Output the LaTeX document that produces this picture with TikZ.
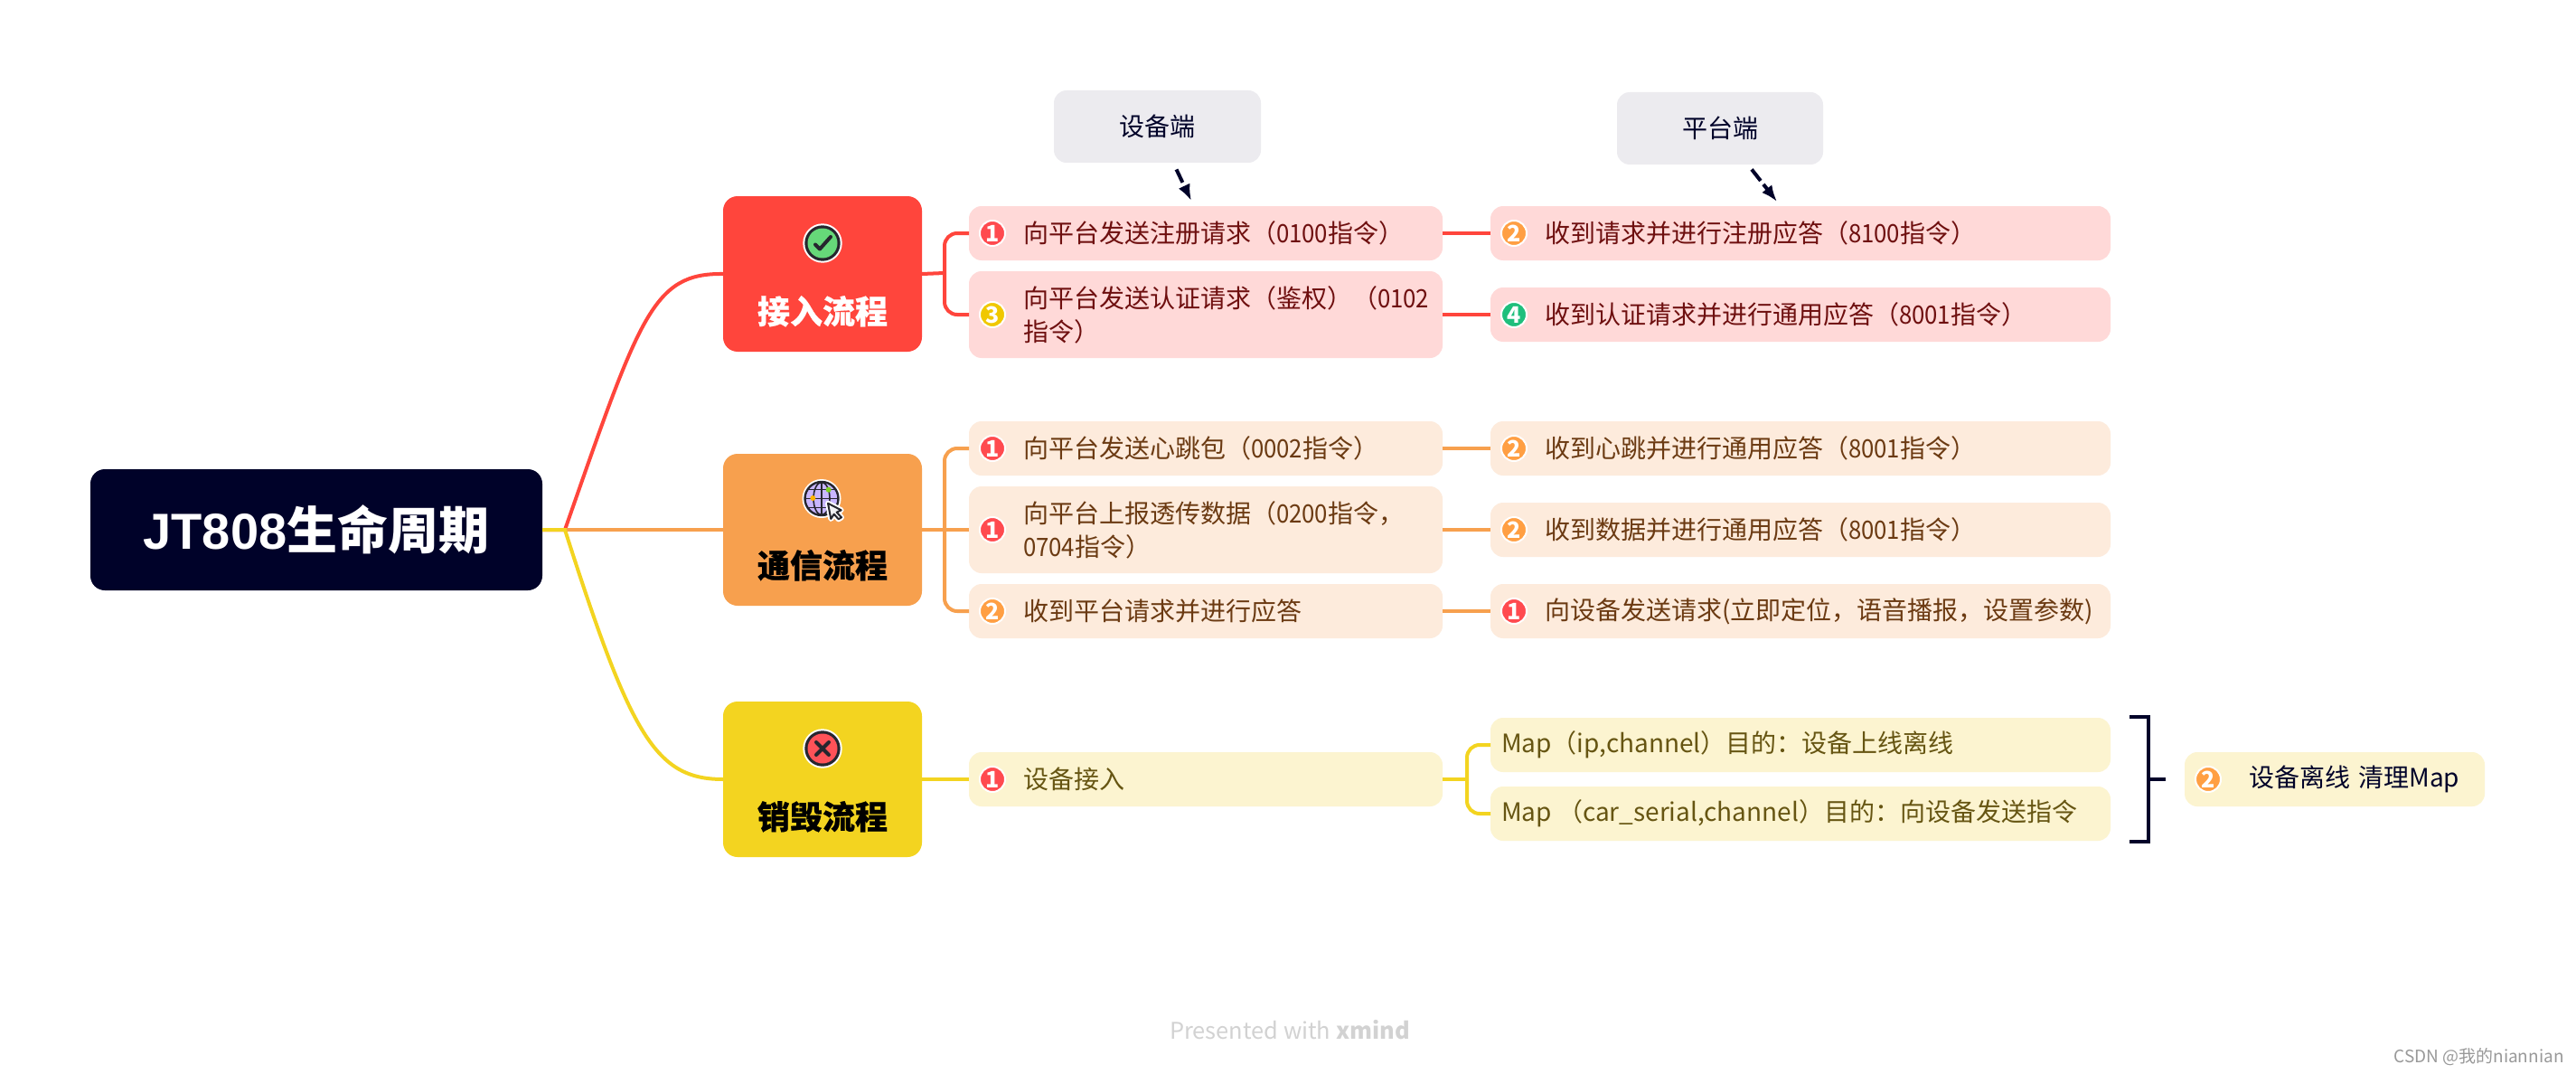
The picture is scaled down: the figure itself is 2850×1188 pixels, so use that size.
\documentclass[tikz,border=0pt]{standalone}
\usepackage{fontspec}
\setmainfont{Noto Sans CJK SC}
\newfontfamily\dg[FakeStretch=0.92]{Noto Sans CJK SC}
\newfontfamily\heavyf[BoldFeatures={FakeBold=0.5}]{Noto Sans CJK SC}
\newfontfamily\latinbold{Liberation Sans}
\usetikzlibrary{arrows.meta,calc}
\definecolor{navy}{HTML}{000229}
\definecolor{cred}{HTML}{FF453C}
\definecolor{corange}{HTML}{F7A04E}
\definecolor{cyellow}{HTML}{F3D420}
\definecolor{lred}{HTML}{FFD9D8}
\definecolor{lorange}{HTML}{FDEBDC}
\definecolor{lyellow}{HTML}{FCF4D0}
\definecolor{tred}{HTML}{6E0F0F}
\definecolor{torange}{HTML}{6B3A12}
\definecolor{tyellow}{HTML}{665512}
\definecolor{mred}{HTML}{FF4A4F}
\definecolor{morange}{HTML}{FF9F43}
\definecolor{myellow}{HTML}{F0C800}
\definecolor{mgreen}{HTML}{1FBF7C}
\definecolor{icondark}{HTML}{26262E}
\definecolor{notegray}{HTML}{ECEBEF}
\definecolor{icgreen}{HTML}{66D879}
\definecolor{icpurple}{HTML}{C8B6FF}
\definecolor{icamber}{HTML}{FFB400}
\definecolor{iclime}{HTML}{7ED321}
\definecolor{iccursor}{HTML}{F2F2F4}
\definecolor{icred}{HTML}{FF5258}
\definecolor{footgray}{HTML}{D2D2D2}
\definecolor{markgray}{HTML}{999999}
\tikzset{
  leafbox/.style={rectangle,rounded corners=7pt,inner sep=0pt,outer sep=0pt,font=\fontsize{14}{18.5}\selectfont},
  redleaf/.style={leafbox,fill=lred,text=tred},
  orangeleaf/.style={leafbox,fill=lorange,text=torange},
  yellowleaf/.style={leafbox,fill=lyellow,text=tyellow},
  navyleaf/.style={leafbox,fill=lyellow,text=navy},
  marker/.style={circle,minimum size=14pt,inner sep=0pt,draw=white,line width=1pt,text=white,font=\fontsize{12.5}{12.5}\selectfont\bfseries},
  mr/.style={marker,fill=mred},
  mo/.style={marker,fill=morange},
  my/.style={marker,fill=myellow},
  mg/.style={marker,fill=mgreen},
  topic/.style={rectangle,rounded corners=8pt,minimum width=110pt,inner sep=0pt,outer sep=0pt,font=\fontsize{18}{18}\selectfont\heavyf\bfseries},
  note/.style={rectangle,rounded corners=7pt,fill=notegray,text=navy,minimum height=40pt,inner sep=0pt,font=\fontsize{14}{18}\selectfont},
  link/.style={line width=2pt,rounded corners=7pt},
  redlink/.style={link,draw=cred},
  orangelink/.style={link,draw=corange},
  yellowlink/.style={link,draw=cyellow},
  dashlink/.style={draw=navy,line width=2pt,dash pattern=on 8pt off 2.5pt,-{Latex[length=9pt,width=7pt]}},
}
% name, style, x0, x1, yc, height, marker style, digit, text offset
\newcommand{\leafmx}{26}
\newcommand{\leafbody}{}
\newcommand{\leaftext}[2]{\makebox[#1][l]{\hspace*{#2}\parbox[c]{\dimexpr#1-#2\relax}{\raggedright\leafbody}}}
\newcommand{\leafnode}[9]{%
  \pgfmathsetmacro{\lcx}{(#3+#4)/2}%
  \pgfmathsetmacro{\lw}{(#4-#3)*0.5}%
  \pgfmathsetmacro{\lh}{#6*0.5}%
  \pgfmathsetmacro{\lo}{#9*0.5}%
  \node[#2,minimum width=\lw pt,minimum height=\lh pt] (#1) at (\lcx,#5)
    {\leaftext{\lw pt}{\lo pt}};%
  \node[#7] (#1m) at ([shift={(\leafmx,0)}]#1.west) {#8};%
}
\begin{document}
\begin{tikzpicture}[x=0.5pt,y=-0.5pt]
\useasboundingbox (0,0) rectangle (2850,1188);
\fill[white] (0,0) rectangle (2850,1188);

% root
\node[rectangle,rounded corners=8pt,fill=navy,text=white,minimum width=250pt,minimum height=67pt,inner sep=0pt,outer sep=0pt,font=\fontsize{28}{28}\selectfont\bfseries] (root) at (350,586) {{\latinbold JT808}生命周期};

% topics
\node[topic,fill=cred,text=white,minimum height=86pt] (ta) at (910,303) {\smash{\raisebox{-27.5pt}{接入流程}}};
\node[topic,fill=corange,text=black,minimum height=84pt] (tb) at (910,586) {\smash{\raisebox{-26.5pt}{通信流程}}};
\node[topic,fill=cyellow,text=black,minimum height=86pt] (tc) at (910,862) {\smash{\raisebox{-27.5pt}{销毁流程}}};

% leaves
\renewcommand{\leafbody}{向平台发送注册请求（{\dg 0100}指令）}
\leafnode{a1}{redleaf}{1072}{1596}{258}{60}{mr}{1}{60}
\renewcommand{\leafbody}{向平台发送认证请求（鉴权）（{\dg 0102}\\指令）}
\leafnode{a2}{redleaf}{1072}{1596}{348}{96}{my}{3}{60}
\renewcommand{\leafbody}{收到请求并进行注册应答（{\dg 8100}指令）}
\leafnode{b1}{redleaf}{1649}{2335}{258}{60}{mo}{2}{60}
\renewcommand{\leafbody}{收到认证请求并进行通用应答（{\dg 8001}指令）}
\leafnode{b2}{redleaf}{1649}{2335}{348}{60}{mg}{4}{60}

\renewcommand{\leafbody}{向平台发送心跳包（{\dg 0002}指令）}
\leafnode{c1}{orangeleaf}{1072}{1596}{496}{60}{mr}{1}{60}
\renewcommand{\leafbody}{向平台上报透传数据（{\dg 0200}指令，\\{\dg 0704}指令）}
\leafnode{c2}{orangeleaf}{1072}{1596}{586}{96}{mr}{1}{60}
\renewcommand{\leafbody}{收到平台请求并进行应答}
\leafnode{c3}{orangeleaf}{1072}{1596}{676}{60}{mo}{2}{60}
\renewcommand{\leafbody}{收到心跳并进行通用应答（{\dg 8001}指令）}
\leafnode{d1}{orangeleaf}{1649}{2335}{496}{60}{mo}{2}{60}
\renewcommand{\leafbody}{收到数据并进行通用应答（{\dg 8001}指令）}
\leafnode{d2}{orangeleaf}{1649}{2335}{586}{60}{mo}{2}{60}
\renewcommand{\leafbody}{向设备发送请求(立即定位，语音播报，设置参数)}
\leafnode{d3}{orangeleaf}{1649}{2335}{676}{60}{mr}{1}{60}

\renewcommand{\leafbody}{设备接入}
\leafnode{e1}{yellowleaf}{1072}{1596}{862}{60}{mr}{1}{60}
\renewcommand{\leafbody}{设备离线\hspace{1.5pt} 清理Map}
\leafnode{g1}{navyleaf}{2417}{2749}{862}{60}{mo}{2}{71}

\node[yellowleaf,minimum width=343pt,minimum height=30pt] (f1) at (1992,824) {\makebox[343pt][l]{\hspace*{6pt}Map（ip,channel）目的：设备上线离线}};
\node[yellowleaf,minimum width=343pt,minimum height=30pt] (f2) at (1992,900) {\makebox[343pt][l]{\hspace*{6pt}Map （car\_serial,channel）目的：向设备发送指令}};

% notes
\node[note,minimum width=114.5pt] (dev) at (1280.5,140) {设备端};
\node[note,minimum width=114pt] (plat) at (1903,142) {平台端};

% note arrows
\coordinate (dev0) at ([shift={(21,7)}]dev.south);
\coordinate (dev1) at ([shift={(-16,-6)}]a1.north);
\coordinate (plat0) at ([shift={(35,5)}]plat.south);
\coordinate (plat1) at ([shift={(-26,-5)}]b1.north);
\draw[dashlink] (dev0) -- (dev1);
\draw[dashlink] (plat0) -- (plat1);

% main branches
\coordinate (rj) at (625,586);
\draw[line width=2pt,draw=cred] (root.east) -- (rj) .. controls (708,349) and (722,302) .. (ta.west);
\draw[line width=2pt,draw=corange] (root.east) -- (rj) -- (tb.west);
\draw[line width=2pt,draw=cyellow] (root.east) -- (rj) .. controls (698,814) and (725,862) .. (tc.west);

% sub branches
\coordinate (sa) at (1045,302);
\draw[redlink] (ta.east) -- (sa);
\draw[redlink] (sa) |- (a1.west);
\draw[redlink] (sa) |- (a2.west);
\draw[redlink] (a1.east) -- (b1.west);
\draw[redlink] (a2.east) -- (b2.west);

\coordinate (sb) at (1045,586);
\draw[orangelink] (tb.east) -- (c2.west);
\draw[orangelink] (sb) |- (c1.west);
\draw[orangelink] (sb) |- (c3.west);
\draw[orangelink] (c1.east) -- (d1.west);
\draw[orangelink] (c2.east) -- (d2.west);
\draw[orangelink] (c3.east) -- (d3.west);

\coordinate (sc) at (1623,862);
\draw[yellowlink] (tc.east) -- (e1.west);
\draw[yellowlink] (e1.east) -- (sc);
\draw[yellowlink] (sc) |- (f1.west);
\draw[yellowlink] (sc) |- (f2.west);

% summary bracket
\coordinate (bt) at (2356,793);
\coordinate (bb) at (2356,931);
\coordinate (bm) at (2396,862);
\draw[navy,line width=2pt] (bt) -- (2377,793) -- (2377,931) -- (bb);
\draw[navy,line width=2pt] (2377,862) -- (bm);

% icon: check
\fill[white] (910,269) circle (21.7);
\fill[icondark] (910,269) circle (19.7);
\fill[icgreen] (910,269) circle (16.5);
\draw[icondark,line width=2pt,line cap=round,line join=round] (902,270.5) -- (907,275.5) -- (919,262);

% icon: globe with cursor
\fill[white] (909,551.5) circle (21.5);
\fill[icpurple] (909,551.5) circle (18);
\draw[icondark,line width=0.8pt] (909,551.5) ellipse (9 and 18);
\draw[icondark,line width=0.8pt] (909,533.5) -- (909,569.5);
\draw[icondark,line width=0.8pt] (891,551.5) -- (927,551.5);
\draw[icondark,line width=0.8pt] (894,541.5) -- (924,541.5);
\draw[icondark,line width=0.8pt] (894,561.5) -- (924,561.5);
\draw[icondark,line width=1.2pt] (909,551.5) circle (18.5);
\fill[icamber] (899.3,551) circle (3);
\fill[iclime] (916.7,541.7) circle (3);
\draw[white,line width=3pt,line join=round,fill=white] (916,556.7) -- (930.7,564.3) -- (925.7,566.7) -- (931,572.3) -- (927.7,574.3) -- (922.7,568.7) -- (919.3,574) -- cycle;
\draw[icondark,line width=1pt,line join=round,fill=iccursor] (916,556.7) -- (930.7,564.3) -- (925.7,566.7) -- (931,572.3) -- (927.7,574.3) -- (922.7,568.7) -- (919.3,574) -- cycle;

% icon: cross
\fill[white] (910,828) circle (21.7);
\fill[icondark] (910,828) circle (19.7);
\fill[icred] (910,828) circle (16.5);
\draw[icondark,line width=2pt,line cap=round] (903,821) -- (917,835) (917,821) -- (903,835);

% footer
\node[anchor=center,inner sep=0pt,text=footgray,font=\fontsize{12.7}{14}\selectfont] (pres) at (1427,1139) {Presented with \textbf{xmind}};
\node[anchor=east,inner sep=0pt,text=markgray,font=\fontsize{9.5}{10}\selectfont] (wm) at (2837,1169) {CSDN @我的niannian};
\end{tikzpicture}
\end{document}
